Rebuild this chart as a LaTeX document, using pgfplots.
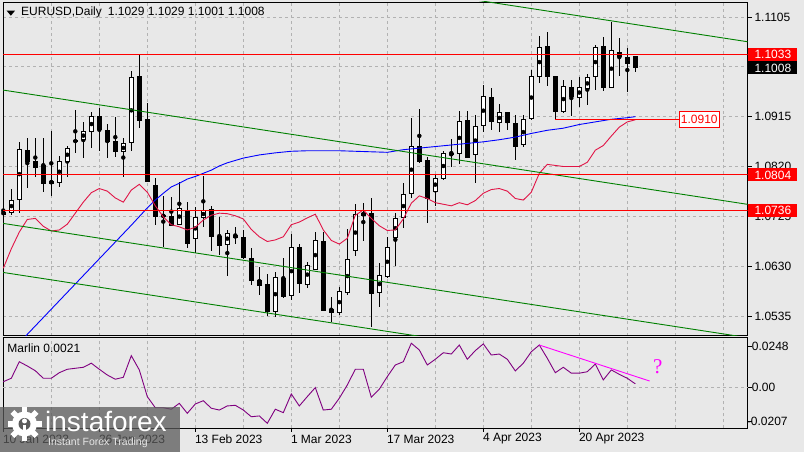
\documentclass[border=0pt]{standalone}
\usepackage{fontspec}
\setmainfont{Liberation Sans}
\newfontfamily\qfont{Liberation Serif}
\usepackage{pgfplots}
\pgfplotsset{compat=1.18}
\usepackage{pgfplotstable}

\definecolor{bg}{RGB}{232,232,232}
\definecolor{gridc}{RGB}{178,178,178}
\definecolor{chan}{RGB}{0,128,0}
\definecolor{maslow}{RGB}{0,0,255}
\definecolor{mafast}{RGB}{225,20,70}
\definecolor{osc}{RGB}{128,0,128}
\definecolor{trendm}{RGB}{255,0,255}
\definecolor{wmark}{RGB}{90,90,90}

% daily candles, bar 0 = 10 Jan 2023
\pgfplotstableread{
i o h l c
0 1.0733 1.0760 1.0712 1.0729
1 1.0733 1.0777 1.0727 1.0756
2 1.0758 1.0867 1.0731 1.0853
3 1.0851 1.0874 1.0779 1.0830
4 1.0830 1.0874 1.0800 1.0819
5 1.0821 1.0874 1.0771 1.0787
6 1.0788 1.0888 1.0764 1.0792
7 1.0790 1.0840 1.0781 1.0830
8 1.0830 1.0859 1.0800 1.0855
9 1.0870 1.0928 1.0846 1.0867
10 1.0872 1.0905 1.0836 1.0886
11 1.0886 1.0924 1.0855 1.0916
12 1.0916 1.0931 1.0849 1.0891
13 1.0889 1.0901 1.0836 1.0867
14 1.0867 1.0914 1.0838 1.0848
15 1.0848 1.0874 1.0800 1.0863
16 1.0865 1.1002 1.0849 1.0989
17 1.0991 1.1033 1.0893 1.0907
18 1.0909 1.0941 1.0790 1.0792
19 1.0783 1.0798 1.0708 1.0724
20 1.0725 1.0764 1.0666 1.0727
21 1.0724 1.0762 1.0706 1.0708
22 1.0710 1.0790 1.0708 1.0739
23 1.0737 1.0752 1.0664 1.0674
24 1.0682 1.0743 1.0655 1.0722
25 1.0722 1.0802 1.0705 1.0737
26 1.0739 1.0745 1.0659 1.0687
27 1.0687 1.0724 1.0651 1.0670
28 1.0672 1.0699 1.0611 1.0693
29 1.0689 1.0705 1.0672 1.0684
30 1.0685 1.0699 1.0643 1.0647
31 1.0645 1.0664 1.0594 1.0602
32 1.0603 1.0628 1.0575 1.0594
33 1.0596 1.0615 1.0535 1.0544
34 1.0544 1.0619 1.0533 1.0609
35 1.0607 1.0645 1.0569 1.0573
36 1.0575 1.0691 1.0565 1.0666
37 1.0666 1.0672 1.0579 1.0596
38 1.0596 1.0638 1.0588 1.0632
39 1.0624 1.0695 1.0623 1.0678
40 1.0678 1.0695 1.0544 1.0546
41 1.0548 1.0571 1.0523 1.0542
42 1.0542 1.0590 1.0537 1.0581
43 1.0579 1.0701 1.0575 1.0643
44 1.0659 1.0748 1.0649 1.0729
45 1.0727 1.0750 1.0678 1.0731
46 1.0731 1.0760 1.0514 1.0577
47 1.0579 1.0636 1.0552 1.0613
48 1.0611 1.0685 1.0607 1.0666
49 1.0685 1.0731 1.0630 1.0720
50 1.0722 1.0788 1.0703 1.0767
51 1.0769 1.0912 1.0760 1.0859
52 1.0859 1.0930 1.0827 1.0830
53 1.0832 1.0838 1.0712 1.0760
54 1.0773 1.0804 1.0745 1.0798
55 1.0798 1.0849 1.0794 1.0844
56 1.0843 1.0872 1.0819 1.0844
57 1.0844 1.0926 1.0825 1.0905
58 1.0907 1.0926 1.0836 1.0838
59 1.0842 1.0918 1.0788 1.0897
60 1.0899 1.0975 1.0886 1.0954
61 1.0952 1.0970 1.0889 1.0905
62 1.0903 1.0939 1.0886 1.0922
63 1.0922 1.0924 1.0889 1.0903
64 1.0901 1.0918 1.0832 1.0859
65 1.0861 1.0918 1.0857 1.0910
66 1.0912 1.1004 1.0909 1.0991
67 1.0992 1.1069 1.0979 1.1046
68 1.1048 1.1076 1.0973 1.0992
69 1.0991 1.0992 1.0910 1.0924
70 1.0924 1.0985 1.0922 1.0973
71 1.0971 1.0985 1.0916 1.0954
72 1.0952 1.0991 1.0933 1.0970
73 1.0968 1.0996 1.0937 1.0989
74 1.0992 1.1052 1.0966 1.1046
75 1.1048 1.1067 1.0964 1.0971
76 1.0971 1.1095 1.0970 1.1042
77 1.1038 1.1065 1.0992 1.1029
78 1.1027 1.1046 1.0962 1.1017
79 1.1029 1.1029 1.1001 1.1008
}\ohlc

% slow moving average (blue)
\pgfplotstableread{
i v
2 1.0484
3 1.0500
6 1.0548
9 1.0596
12 1.0644
14 1.0676
16 1.0708
18 1.0741
19 1.0756
20 1.0769
21 1.0781
22 1.0788
23 1.0796
24 1.0801
25 1.0807
26 1.0813
27 1.0821
28 1.0827
30 1.0836
32 1.0842
34 1.0846
36 1.0849
38 1.0850
40 1.0850
42 1.0850
44 1.0849
46 1.0848
48 1.0847
50 1.0852
52 1.0855
54 1.0858
56 1.0861
58 1.0864
60 1.0867
62 1.0871
64 1.0876
66 1.0883
68 1.0889
70 1.0893
72 1.0900
74 1.0905
76 1.0910
78 1.0913
79 1.0915
}\maslowtab

% fast moving average (crimson)
\pgfplotstableread{
i v
0 1.0626
1 1.0663
2 1.0695
3 1.0719
4 1.0721
5 1.0706
6 1.0697
7 1.0699
8 1.0710
9 1.0731
10 1.0752
11 1.0770
12 1.0778
13 1.0773
14 1.0760
15 1.0752
16 1.0775
17 1.0786
18 1.0771
19 1.0745
20 1.0724
21 1.0709
22 1.0705
23 1.0699
24 1.0704
25 1.0718
26 1.0727
27 1.0731
28 1.0730
29 1.0726
30 1.0720
31 1.0700
32 1.0686
33 1.0677
34 1.0680
35 1.0686
36 1.0709
37 1.0714
38 1.0722
39 1.0729
40 1.0699
41 1.0679
42 1.0672
43 1.0683
44 1.0727
45 1.0737
46 1.0721
47 1.0707
48 1.0698
49 1.0699
50 1.0720
51 1.0750
52 1.0764
53 1.0759
54 1.0751
55 1.0748
56 1.0745
57 1.0751
58 1.0747
59 1.0755
60 1.0769
61 1.0776
62 1.0778
63 1.0773
64 1.0759
65 1.0756
66 1.0771
67 1.0807
68 1.0824
69 1.0822
70 1.0820
71 1.0820
72 1.0820
73 1.0828
74 1.0851
75 1.0860
76 1.0878
77 1.0895
78 1.0905
79 1.0909
}\mafasttab

% Marlin oscillator
\pgfplotstableread{
i v
0 0.0034
1 0.0055
2 0.0156
3 0.0130
4 0.0101
5 0.0055
6 0.0055
7 0.0089
8 0.0110
9 0.0116
10 0.0122
11 0.0147
12 0.0110
13 0.0075
14 0.0049
15 0.0061
16 0.0193
17 0.0106
18 -0.0057
19 -0.0125
20 -0.0125
21 -0.0134
22 -0.0098
23 -0.0159
24 -0.0102
25 -0.0082
26 -0.0128
27 -0.0139
28 -0.0114
29 -0.0110
30 -0.0139
31 -0.0180
32 -0.0175
33 -0.0220
34 -0.0134
35 -0.0155
36 -0.0041
37 -0.0114
38 -0.0057
39 -0.0002
40 -0.0139
41 -0.0134
42 -0.0067
43 0.0014
44 0.0110
45 0.0110
46 -0.0061
47 -0.0012
48 0.0065
49 0.0136
50 0.0156
51 0.0269
52 0.0228
53 0.0136
54 0.0171
55 0.0211
56 0.0203
57 0.0258
58 0.0171
59 0.0224
60 0.0265
61 0.0197
62 0.0203
63 0.0171
64 0.0100
65 0.0147
66 0.0217
67 0.0258
68 0.0177
69 0.0089
70 0.0122
71 0.0086
72 0.0086
73 0.0095
74 0.0142
75 0.0045
76 0.0106
77 0.0079
78 0.0055
79 0.0021
}\marlin

\def\xa{-0.0375}
\def\xb{93.025}
% half a pixel in price units
\def\hp{0.0000954}

\pgfplotsset{
  chart/.style={
    scale only axis, width=744.5pt, anchor=south west,
    xmin=\xa, xmax=\xb,
    axis background/.style={fill=bg},
    axis line style={line width=0.9pt},
    clip mode=individual,
    xtick={0,6,...,90}, xticklabels={}, xtick style={draw=none},
    xmajorgrids,
    ytick pos=right, tick align=outside, major tick length=4pt,
    ytick style={black, line width=0.9pt},
    yticklabels={}, scaled ticks=false,
    major grid style={gridc, dash pattern=on 3pt off 3pt, line width=0.8pt},
  },
  bars/.style={only marks, mark=none, forget plot, unbounded coords=discard,
    error bars/.cd, y dir=both, y explicit, error mark=none},
}

\newcommand\pbox[3]{%
  \fill[#1] ([xshift=0.8pt,yshift=-6.5pt]axis cs:\xb,#2) rectangle ([xshift=49.8pt,yshift=6.5pt]axis cs:\xb,#2);
  \node[anchor=west,inner sep=0pt,text=white] at ([xshift=6.8pt]axis cs:\xb,#2) {#3};}
\newcommand\plab[1]{%
  \node[anchor=west,inner sep=0pt] at ([xshift=6.8pt]axis cs:\xb,#1) {#1};}
\newcommand\dlab[2]{%
  \draw[line width=0.9pt] (axis cs:#1,-0.02505) -- ([yshift=-4pt]axis cs:#1,-0.02505);
  \node[anchor=west,inner sep=0pt] at ([xshift=-0.5pt,yshift=-10.7pt]axis cs:#1,-0.02505) {#2};}

\begin{document}
\begin{tikzpicture}[x=1pt,y=1pt,every node/.append style={font=\fontsize{12}{14}\selectfont}]
\fill[bg] (0,0) rectangle (804,452);
\useasboundingbox (0,0) rectangle (804,452);

% ---------- price panel ----------
\begin{axis}[chart, at={(3pt,116.3pt)}, height=333.7pt,
  ymin=1.04974, ymax=1.11336,
  ytick={1.0535,1.0630,1.0725,1.0820,1.0915,1.1010,1.1105},
  ymajorgrids]

% wicks
\addplot[bars, error bar style={draw=black, line width=0.9pt}]
  table[x=i, y expr={(\thisrow{h}+\thisrow{l})/2},
        y error expr={(\thisrow{h}-\thisrow{l})/2}]{\ohlc};
% bearish bodies
\addplot[bars, error bar style={draw=black, line width=5.4pt}]
  table[x=i, y expr={\thisrow{c}<\thisrow{o} ? (\thisrow{o}+\thisrow{c})/2 : nan},
        y error expr={abs(\thisrow{o}-\thisrow{c})/2+\hp}]{\ohlc};
% bullish bodies: outline, then white inside
\addplot[bars, error bar style={draw=black, line width=5.4pt}]
  table[x=i, y expr={\thisrow{c}<\thisrow{o} ? nan : (\thisrow{o}+\thisrow{c})/2},
        y error expr={abs(\thisrow{o}-\thisrow{c})/2+\hp}]{\ohlc};
\addplot[bars, error bar style={draw=white, line width=3.6pt}]
  table[x=i, y expr={\thisrow{c}<\thisrow{o} ? nan : (\thisrow{o}+\thisrow{c})/2},
        y error expr={max(abs(\thisrow{o}-\thisrow{c})/2-\hp,0)}]{\ohlc};

\addplot[maslow, line width=0.9pt] table[x=i,y=v]{\maslowtab};
\addplot[mafast, line width=0.9pt] table[x=i,y=v]{\mafasttab};

% channel lines
\addplot[chan, line width=0.9pt] coordinates {(-0.075,1.12757) (93.05,1.10578)};
\addplot[chan, line width=0.9pt] coordinates {(-0.075,1.09658) (93.05,1.07478)};
\addplot[chan, line width=0.9pt] coordinates {(-0.075,1.07116) (93.05,1.04937)};
\addplot[chan, line width=0.9pt] coordinates {(-0.075,1.06181) (93.05,1.04002)};

% horizontal levels
\addplot[red, line width=0.9pt] coordinates {(\xa,1.1033) (\xb,1.1033)};
\addplot[red, line width=0.9pt] coordinates {(\xa,1.0804) (\xb,1.0804)};
\addplot[red, line width=0.9pt] coordinates {(\xa,1.0736) (\xb,1.0736)};
\addplot[red, line width=0.9pt] coordinates {(69,1.0910) (84.4,1.0910)};
\node[draw=red, fill=white, text=red, anchor=west, inner xsep=2pt, inner ysep=0pt,
  minimum height=16pt, line width=0.9pt] at (axis cs:84.4,1.0910) {1.0910};

% price scale
\plab{1.1105}\plab{1.1010}\plab{1.0915}\plab{1.0820}\plab{1.0725}\plab{1.0630}\plab{1.0535}
\pbox{red}{1.1033}{1.1033}
\pbox{black}{1.1008}{1.1008}
\pbox{red}{1.0804}{1.0804}
\pbox{red}{1.0736}{1.0736}
\end{axis}

% title
\fill (6.7,441.3) -- (15,441.3) -- (10.85,436.3) -- cycle;
\node[anchor=west, inner sep=0pt] at (21,439.5) {EURUSD,Daily\hspace{6pt}1.1029 1.1029 1.1001 1.1008};

% ---------- oscillator panel ----------
\begin{axis}[chart, at={(3pt,23.7pt)}, height=90.8pt,
  ymin=-0.02505, ymax=0.0304,
  ytick={-0.0207,0,0.0248}]
\draw[gridc, dash pattern=on 3pt off 3pt, line width=0.8pt] (axis cs:\xa,0) -- (axis cs:\xb,0);
\addplot[osc, line width=0.9pt] table[x=i,y=v]{\marlin};
\addplot[trendm, line width=0.9pt] coordinates {(67,0.0258) (80.8,0.0038)};
\node[text=trendm, font=\qfont\fontsize{21}{24}\selectfont] at (axis cs:81.8,0.0126) {?};

\dlab{0}{10 Jan 2023}
\dlab{12}{26 Jan 2023}
\dlab{24}{13 Feb 2023}
\dlab{36}{1 Mar 2023}
\dlab{48}{17 Mar 2023}
\dlab{60}{4 Apr 2023}
\dlab{72}{20 Apr 2023}

\node[anchor=west,inner sep=0pt] at ([xshift=4.2pt]axis cs:\xb,0.0248) {0.0248};
\node[anchor=west,inner sep=0pt] at ([xshift=4.2pt]axis cs:\xb,0) {0.00};
\node[anchor=west,inner sep=0pt] at ([xshift=-0.8pt]axis cs:\xb,-0.0207) {-0.0207};
\end{axis}
\node[anchor=west, inner sep=0pt] at (7.3,103.7) {Marlin 0.0021};

% watermark
\fill[wmark, opacity=0.75] (0,0) rectangle (180,44.7);
\fill[white] (24.5,28) circle (12.5);
\foreach \a in {0,45,...,315}
  \fill[white, rotate around={\a:(24.5,28)}] (21.7,38) rectangle (27.3,45);
\fill[wmark] (24.5,28) circle (6);
\fill[white] (23,17) rectangle (26,27);
\fill[white] (24.5,31) circle (2.5);
\node[anchor=base west, inner sep=0pt, text=white,
  font=\fontsize{28}{32}\selectfont] at (45,20) {instaforex};
\node[anchor=base west, inner sep=0pt, text=white!80!gray,
  font=\fontsize{10.5}{12}\selectfont] at (48,6) {Instant Forex Trading};
\end{tikzpicture}
\end{document}
